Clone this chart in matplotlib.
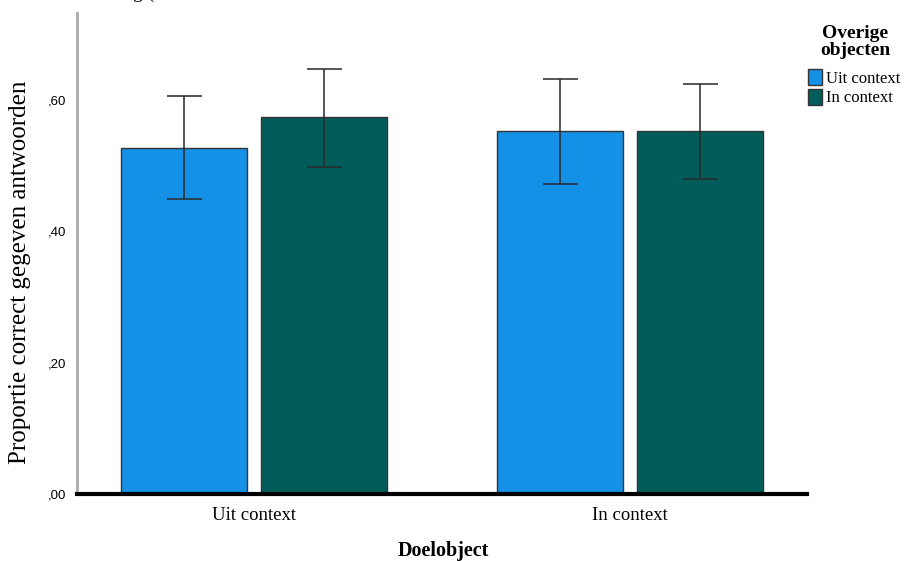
import numpy as np
import matplotlib
matplotlib.use('Agg')
import matplotlib.pyplot as plt

categories = ['Uit context', 'In context']
series = ['Uit context', 'In context']
means_uit = [0.527, 0.553]
means_in = [0.573, 0.553]
lo_uit = [0.449, 0.472]
hi_uit = [0.605, 0.632]
lo_in = [0.498, 0.480]
hi_in = [0.647, 0.624]
yticks = [0.0, 0.2, 0.4, 0.6]
ytick_labels = [',00', ',20', ',40', ',60']

colors = ['#1491e6', '#015c5a']
serif = ['Liberation Serif', 'DejaVu Serif']
sans = ['Liberation Sans', 'DejaVu Sans']

fig = plt.figure(figsize=(9.05, 5.61), dpi=100)
ax = fig.add_axes([77 / 905, 1 - 494 / 561, 730 / 905, 481 / 561])

x = np.arange(len(categories))
w = 0.334
off = 0.186
for i, (m, lo, hi) in enumerate([(means_uit, lo_uit, hi_uit), (means_in, lo_in, hi_in)]):
    pos = x + (i * 2 - 1) * off
    m = np.array(m)
    err = [m - np.array(lo), np.array(hi) - m]
    ax.bar(pos, m, width=w, color=colors[i], edgecolor='#333333', linewidth=1.0,
           label=series[i], zorder=2)
    ax.errorbar(pos, m, yerr=err, fmt='none', ecolor='#2a2a2a', elinewidth=1.3,
                capsize=12.6, capthick=1.3, alpha=0.85, zorder=3)

ax.set_xlim(-0.47, 1.47)
ax.set_ylim(0, 0.732)
ax.set_yticks(yticks)
ax.set_yticklabels(ytick_labels, fontfamily=sans, fontsize=9.5)
ax.set_xticks(x)
ax.set_xticklabels(categories, fontfamily=serif, fontsize=13.5)
ax.tick_params(axis='both', length=0, pad=8)
ax.tick_params(axis='x', pad=9)

for s in ['top', 'right']:
    ax.spines[s].set_visible(False)
ax.spines['left'].set_color('#aaaaaa')
ax.spines['left'].set_linewidth(2)
ax.spines['bottom'].set_color('black')
ax.spines['bottom'].set_linewidth(3)

# y label sits a bit below the axes centre in the original
fig.text(20 / 905, 1 - 272 / 561, 'Proportie correct gegeven antwoorden', fontfamily=serif,
         fontsize=18, rotation=90, ha='center', va='center')
fig.text(443 / 905, 1 - 551 / 561, 'Doelobject', fontfamily=serif, fontsize=14.5,
         fontweight='bold', ha='center', va='center')

fig.text(855 / 905, 1 - 42 / 561, 'Overige\nobjecten', fontfamily=serif, fontsize=14,
         fontweight='bold', ha='center', va='center', linespacing=1.05)
leg = fig.legend(loc='upper left', bbox_to_anchor=(808 / 905, 1 - 69 / 561),
                 prop={'family': serif, 'size': 12}, frameon=False,
                 handlelength=0.85, handleheight=1.1, handletextpad=0.25,
                 labelspacing=0.12, borderaxespad=0, borderpad=0)

fig.text(133 / 905, 1 + 2 / 561, 'g (', fontfamily=serif, fontsize=14,
         ha='left', va='baseline')

fig.savefig('out.png', dpi=100)
